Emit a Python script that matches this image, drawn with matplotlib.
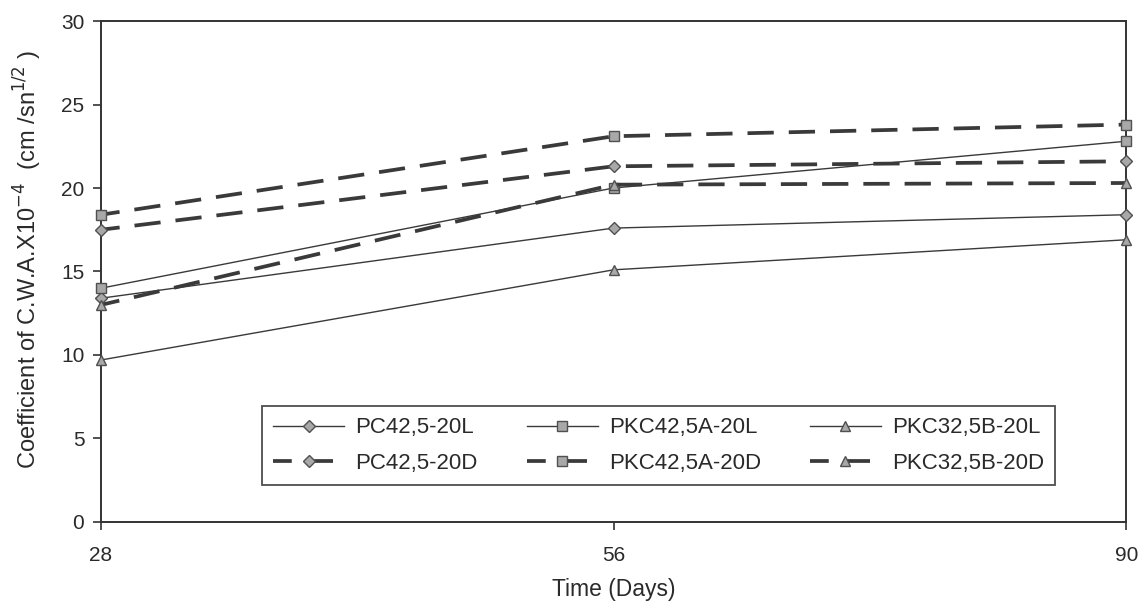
import matplotlib
matplotlib.use("Agg")
import matplotlib.pyplot as plt

plt.rcParams['font.family'] = ['Liberation Sans', 'DejaVu Sans']

# Sampling ages (days) and water absorption coefficients
days = ["28", "56", "90"]
pc425_20L = [13.4, 17.6, 18.4]
pkc425a_20L = [14.0, 20.0, 22.8]
pkc325b_20L = [9.7, 15.1, 16.9]
pc425_20D = [17.5, 21.3, 21.6]
pkc425a_20D = [18.4, 23.1, 23.8]
pkc325b_20D = [13.0, 20.2, 20.3]

series = [
    ("PC42,5-20L", pc425_20L, "D", "L"),
    ("PC42,5-20D", pc425_20D, "D", "D"),
    ("PKC42,5A-20L", pkc425a_20L, "s", "L"),
    ("PKC42,5A-20D", pkc425a_20D, "s", "D"),
    ("PKC32,5B-20L", pkc325b_20L, "^", "L"),
    ("PKC32,5B-20D", pkc325b_20D, "^", "D"),
]

line_col = "#3a3a3a"
face_col = "#a8a8a8"
edge_col = "#505050"
text_col = "#2a2a2a"

fig = plt.figure(figsize=(11.48, 6.13), dpi=100)
ax = fig.add_axes([0.088, 0.1485, 0.893, 0.8172])

x = list(range(len(days)))
handles = []
for name, vals, mk, kind in series:
    if kind == "L":
        style = dict(linestyle="-", linewidth=1.0)
    else:
        style = dict(linestyle=(2, (7, 4)), linewidth=2.7)
    ms = 6.5 if mk == "D" else 7.5
    h, = ax.plot(x, vals, color=line_col, marker=mk, markersize=ms,
                 markerfacecolor=face_col, markeredgecolor=edge_col,
                 markeredgewidth=1.0, clip_on=False, label=name,
                 zorder=3, **style)
    handles.append(h)

ax.set_xlim(0, 2)
ax.set_ylim(0, 30)
ax.set_xticks(x)
ax.set_xticklabels(days)
ax.set_yticks(range(0, 31, 5))

for s in ax.spines.values():
    s.set_color("#333333")
    s.set_linewidth(1.4)

ax.tick_params(axis="x", direction="out", length=6, width=1.2, color="#333333",
               labelsize=15, labelcolor=text_col, pad=11)
ax.tick_params(axis="y", direction="out", length=6, width=1.2, color="#333333",
               labelsize=15, labelcolor=text_col, pad=6)

ax.set_xlabel("Time (Days)", fontsize=16.5, color=text_col, labelpad=10)
ax.set_ylabel(r"Coefficient of C.W.A.X10$^{\mathsf{-4}}$  (cm /sn$^{1/2}$ )",
              fontsize=17, color=text_col)
ax.yaxis.set_label_coords(-0.056, 0.525)

leg = ax.legend(handles=handles, ncol=3, loc="lower left",
                bbox_to_anchor=(0.157, 0.074), fontsize=16,
                frameon=True, fancybox=False, edgecolor="#222222",
                handlelength=3.2, handletextpad=0.5, columnspacing=2.2,
                labelspacing=0.65, borderpad=0.5, borderaxespad=0)
leg.get_frame().set_linewidth(1.3)
for t in leg.get_texts():
    t.set_color(text_col)

fig.savefig("out.png", dpi=100)
